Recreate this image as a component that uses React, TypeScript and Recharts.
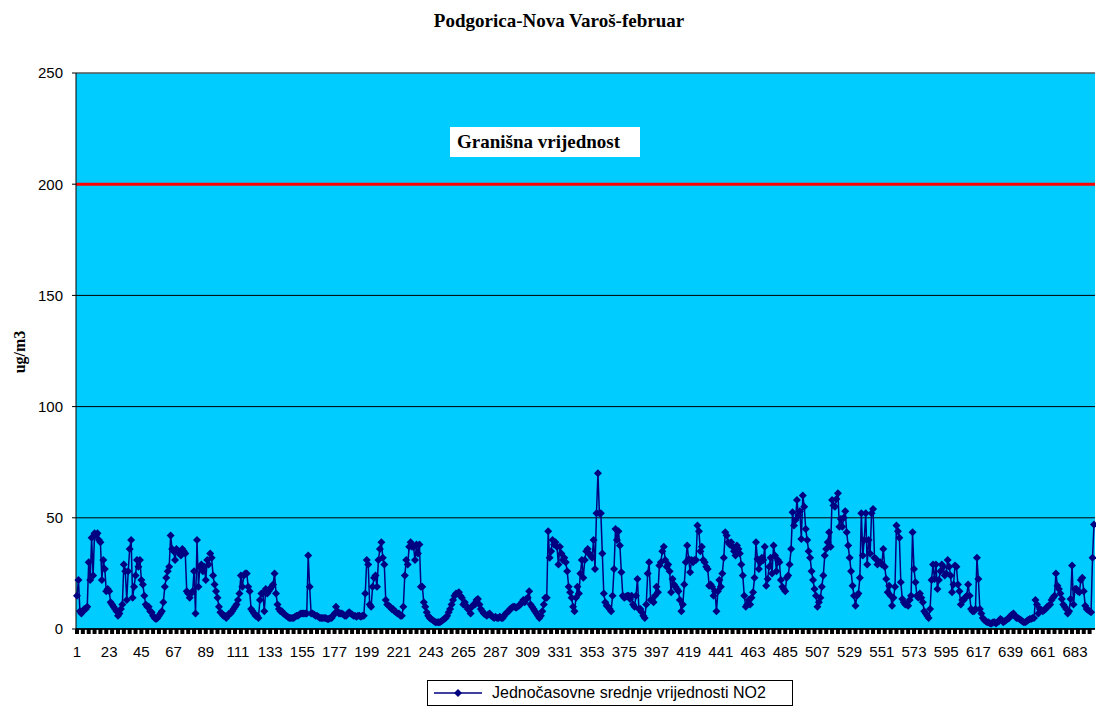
import { LineChart, Line, XAxis, YAxis, CartesianGrid, ReferenceLine } from "recharts";

// hourly NO2, Podgorica - Nova Varoš, February (one row per day, 24 h)
const TITLE = "Podgorica-Nova Varoš-februar";
const SERIES_NAME = "Jednočasovne srednje vrijednosti NO2";
const LIMIT_LABEL = "Granišna vrijednost";
const Y_LABEL = "ug/m3";
const LIMIT_VALUE = 200;
const Y_TICKS = [0, 50, 100, 150, 200, 250];
const X_LABELS = [
  1, 23, 45, 67, 89, 111, 133, 155, 177, 199, 221, 243, 265, 287, 309, 331,
  353, 375, 397, 419, 441, 463, 485, 507, 529, 551, 573, 595, 617, 639, 661, 683,
];

const week1 = [
  15, 22, 8, 7, 8, 9, 9, 10, 30, 22, 41, 24, 43, 42, 43, 40, 39, 22, 31, 27, 17, 18, 17, 12,
  11, 10, 9, 8, 6, 7, 9, 11, 29, 26, 13, 26, 36, 40, 14, 19, 24, 31, 28, 31, 22, 20, 15, 11,
  10, 10, 8, 7.5, 6, 5, 4.5, 5, 6, 7, 8, 12, 19, 23, 26, 28, 42, 36, 35, 31, 36, 35, 34, 33,
  36, 35, 34, 17, 16, 14, 16, 17, 26, 7, 40, 19, 28, 29, 26, 28, 22, 31, 29, 34, 32, 24, 20, 17,
  14, 10, 7.5, 7, 6, 6, 5, 6, 7, 7, 8, 9, 10, 11, 13, 16, 24, 19, 24, 25, 25, 19, 17, 9,
  8, 7, 6, 6, 5, 13, 16, 16, 8, 18, 16, 17, 18, 19, 20, 25, 16, 11, 9, 8, 8, 7, 6.5, 6,
  5.5, 5, 5, 5, 5, 5.5, 6, 6, 6.5, 7, 7, 7, 7, 7, 33, 19, 7, 7, 6.5, 6, 6, 5.5, 5, 5,
];

const week2 = [
  5, 5, 5, 4.5, 4.5, 5, 5, 6, 7, 10, 8, 7, 7, 7, 6.5, 6, 6, 7, 7.5, 7, 6.5, 6, 6, 5.5,
  6, 6, 5.5, 6, 6, 16, 31, 29, 11, 10, 19, 23, 24, 19, 31, 36, 39, 32, 29, 13, 11, 10.5, 10, 9,
  9, 8, 7.5, 7, 7, 6, 6, 10, 24, 31, 29, 37, 39, 37, 37, 31, 38, 34, 38, 19, 19, 12, 10, 7.5,
  6, 5, 4.5, 4, 3.5, 3, 3, 3, 3, 3.5, 4, 4.5, 5, 6, 7.5, 9, 11, 13, 15, 16, 16, 16.5, 15, 14,
  11, 12, 10.5, 9, 9, 7, 10, 11, 11, 13, 13.5, 11, 9, 8, 7, 6.5, 6, 6.5, 7, 6, 5.5, 5, 5.5, 5,
  5, 5.5, 5, 5, 6, 7, 7.5, 8, 9, 9.5, 10, 10, 9.5, 10, 10.5, 11, 12, 13, 12, 13.5, 14, 17, 11, 10,
  9, 8, 7, 6, 5, 6, 8, 11, 14, 14, 44, 32, 35, 40, 38, 39, 37, 29, 37, 34, 31, 32, 30, 26,
];

const week3 = [
  19, 16.5, 14, 10, 8, 14, 19, 16, 25, 31, 23, 31, 35, 36, 34, 33, 32, 40, 27, 52, 70, 52, 52, 34,
  16, 12, 10.5, 10, 9, 8, 15, 27, 45, 40, 44, 37.5, 25.5, 15, 14, 14.5, 15, 15, 13.5, 15, 11, 10, 15, 22.5,
  9, 9, 7.5, 6, 5, 11, 25, 30, 13, 13, 12, 15, 19, 16.5, 28.5, 30, 35, 37, 31, 28, 29, 26, 16.5, 22.5,
  20, 19, 18, 17, 13, 8, 11, 20, 30, 37.5, 31.5, 25.5, 31, 30, 31, 31, 46.5, 44, 35, 37, 31, 30, 28, 27,
  19.5, 20, 19, 15, 17, 8, 17, 22, 19, 25, 32, 43.5, 42, 39, 38, 39, 37, 35, 33, 37.5, 36, 34, 29, 24,
  15, 10, 11, 13, 11, 14, 16.5, 23, 39, 31.5, 27, 30, 32, 31, 37, 19.5, 22.5, 28, 32, 25, 37.5, 33, 26, 31,
  30, 22, 19, 18, 17, 23, 24, 29, 36, 52.5, 46.5, 49, 58, 51, 53, 40.5, 60, 55, 45, 40, 35, 32, 26, 22,
];

const week4 = [
  18, 15, 10, 12, 14, 19, 24, 33, 36, 39, 43.5, 37, 58, 55.5, 55, 58.5, 61, 46, 49.5, 46, 50, 53, 43.5, 37.5,
  32, 26, 19.5, 15, 10.5, 15, 16, 23, 52, 33, 40, 52, 29, 40, 34, 52, 54, 32, 31.5, 29, 30, 30, 29, 36,
  28, 22.5, 16.5, 19.5, 15, 10.5, 14, 19, 46.5, 44, 41, 21, 13.5, 12, 11, 11, 10.5, 13, 15, 43.5, 27, 21, 15, 14,
  16, 14, 12, 8, 7, 6, 5, 9, 22, 29, 22.5, 29, 18, 22, 26, 29, 28, 24, 25, 31, 28, 24, 16.5, 20,
  28.5, 28, 20, 17, 11, 13, 13, 14, 15, 20, 15, 9, 8, 8, 9, 32, 22.5, 9, 7, 5, 4, 3.5, 3, 3,
  2.5, 2.5, 3, 3, 2.5, 3, 3.5, 4.5, 4, 3, 3.5, 4, 4.5, 5, 6, 6.5, 7, 6, 5, 5, 4.5, 4, 3.5, 3,
  3, 3.5, 4, 4.5, 4.5, 5, 5, 13, 11, 7, 9, 8.5, 8, 8.5, 9, 10, 10.5, 11, 13, 14, 15, 25, 19.5, 18,
];

const day29 = [
  16, 13.5, 11, 10, 9, 7, 8, 13.5, 28.5, 11, 18, 18, 17, 16.5, 22, 23, 17, 10.5, 9, 8.5, 8, 7.5, 32, 47,
];

const no2 = [...week1, ...week2, ...week3, ...week4, ...day29];
const hours = no2.map((_, i) => i + 1);
const data = hours.map((h, i) => ({ hour: h, no2: no2[i] }));
const oddHours = hours.filter((h) => h % 2 === 1);

const NAVY = "#000080";
const PLOT_BG = "#00CCFF";
const SANS = "'Liberation Sans', Arial, sans-serif";
const SERIF = "'Liberation Serif', 'Times New Roman', serif";

// Excel-style dense tick marks (every 4th hour) plus labels every 22 hours
function HourTick(props: any) {
  const { x, y, payload } = props;
  const h = payload.value;
  return (
    <g>
      {(h - 1) % 4 === 0 && <rect x={x - 2} y={y} width={4} height={5} fill="#000" />}
      {X_LABELS.includes(h) && (
        <text x={x} y={y} dy={28} textAnchor="middle" fontSize={15} fill="#000" fontFamily={SANS}>
          {h}
        </text>
      )}
    </g>
  );
}

function Diamond(props: any) {
  const { cx, cy, index } = props;
  if (cx == null || cy == null) return <g key={index} />;
  const r = 4;
  return (
    <polygon
      key={index}
      points={`${cx},${cy - r} ${cx + r},${cy} ${cx},${cy + r} ${cx - r},${cy}`}
      fill={NAVY}
    />
  );
}

export default function App() {
  return (
    <div style={{ position: "absolute", left: 0, top: 0, width: 1096, height: 709, background: "#fff" }}>
      <LineChart width={1096} height={709} data={data} margin={{ top: 73, right: 1, bottom: 40, left: 36 }}>
        <CartesianGrid vertical={false} stroke="#000" fill={PLOT_BG} fillOpacity={1} />
        <XAxis
          dataKey="hour"
          ticks={oddHours}
          interval={0}
          tick={<HourTick />}
          tickSize={0}
          tickMargin={0}
          tickLine={false}
          axisLine={{ stroke: "#000", strokeWidth: 1.5 }}
          height={40}
          padding={{ left: 1, right: 1 }}
        />
        <YAxis
          domain={[0, 250]}
          ticks={Y_TICKS}
          interval={0}
          width={40}
          tickSize={4}
          tickMargin={9}
          tickLine={{ stroke: "#000" }}
          axisLine={{ stroke: "#000" }}
          tick={{ fontSize: 15, fill: "#000", fontFamily: SANS }}
        />
        <ReferenceLine y={250} stroke="#808080" />
        <ReferenceLine y={LIMIT_VALUE} stroke="#FF0000" strokeWidth={3} />
        <Line
          type="linear"
          dataKey="no2"
          stroke={NAVY}
          strokeWidth={1.5}
          dot={<Diamond />}
          activeDot={false}
          isAnimationActive={false}
        />
      </LineChart>

      <div
        style={{
          position: "absolute", left: 0, width: 1118, top: 10, textAlign: "center",
          fontFamily: SERIF, fontWeight: "bold", fontSize: 19,
        }}
      >
        {TITLE}
      </div>

      <div
        style={{
          position: "absolute", left: 20, top: 352, transform: "translate(-50%, -50%) rotate(-90deg)",
          fontFamily: SERIF, fontWeight: "bold", fontSize: 16, whiteSpace: "nowrap",
        }}
      >
        {Y_LABEL}
      </div>

      <div
        style={{
          position: "absolute", left: 450, top: 127, width: 183, height: 30, paddingLeft: 7,
          background: "#fff", fontFamily: SERIF, fontWeight: "bold", fontSize: 19, lineHeight: "30px",
        }}
      >
        {LIMIT_LABEL}
      </div>

      <div
        style={{
          position: "absolute", left: 427, top: 680, width: 364, height: 24, border: "1px solid #000",
          display: "flex", alignItems: "center", fontFamily: SANS, fontSize: 16,
        }}
      >
        <svg width={58} height={12} style={{ marginLeft: 6 }}>
          <line x1={0} y1={6} x2={48} y2={6} stroke={NAVY} strokeWidth={1.5} />
          <polygon points="24,2 28,6 24,10 20,6" fill={NAVY} />
        </svg>
        <span>{SERIES_NAME}</span>
      </div>
    </div>
  );
}
